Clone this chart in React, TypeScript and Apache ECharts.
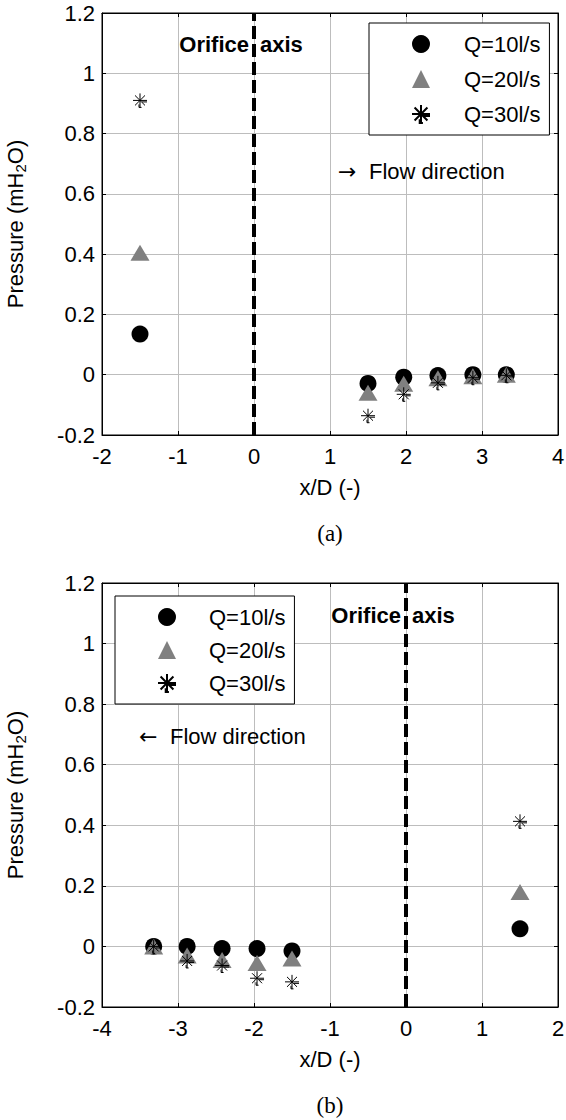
import React, { useEffect, useRef } from "react";
import * as echarts from "echarts";

const FONT = "Liberation Sans";
const FS = 22;
const SERIES_NAMES = ["Q=10l/s", "Q=20l/s", "Q=30l/s"];

// Panel (a)
const xPosA = [-1.5, 1.5, 1.97, 2.42, 2.88, 3.32];
const q10A = [0.135, -0.029, -0.008, -0.003, 0.0, 0.0];
const q20A = [0.405, -0.06, -0.03, -0.012, -0.005, 0.0];
const q30A = [0.91, -0.136, -0.065, -0.027, -0.01, -0.002];

// Panel (b)
const xPosB = [-3.32, -2.88, -2.42, -1.96, -1.5, 1.5];
const q10B = [0.0, 0.0, -0.007, -0.007, -0.015, 0.058];
const q20B = [0.0, -0.03, -0.045, -0.055, -0.04, 0.18];
const q30B = [0.0, -0.048, -0.063, -0.105, -0.117, 0.413];

const Y_MIN = -0.2;
const Y_MAX = 1.2;
const Y_STEP = 0.2;
const X_RANGE_A = [-2, 4];
const X_RANGE_B = [-4, 2];

const ASTERISK =
  "path://M1 8L15 8M8 1L8 15M3 3L13 13M13 3L3 13M10 9.5L15 9.5M7 12L7 15L9.5 15";

const GRID_LEFT = 102;
const GRID_WIDTH = 456;

type Panel = {
  xr: number[];
  xs: number[];
  q10: number[];
  q20: number[];
  q30: number[];
  gridTop: number;
  gridHeight: number;
  legendLeft: number;
  legendTop: number;
  legendPadLeft: number;
  legendTextPad: number;
  legendGap: number;
  orificeY: number;
  arrow: string;
  flowX: number;
  flowY: number;
  caption: string;
  captionY: number;
};

function axisCommon() {
  return {
    axisLine: { show: true, onZero: false, lineStyle: { color: "#000", width: 1 } },
    axisTick: { show: true, inside: true, length: 4, lineStyle: { color: "#000" } },
  };
}

function buildOption(p: Panel) {
  const x0px = GRID_LEFT + ((0 - p.xr[0]) / (p.xr[1] - p.xr[0])) * GRID_WIDTH;
  const pts = (ys: number[]) => p.xs.map((x, i) => [x, ys[i]]);
  const labelFmt = (v: number) => String(Math.round(v * 10) / 10);
  return {
    animation: false,
    backgroundColor: "#fff",
    grid: {
      left: GRID_LEFT,
      width: GRID_WIDTH,
      top: p.gridTop,
      height: p.gridHeight,
      containLabel: false,
      outerBoundsMode: "none",
      show: true,
      borderColor: "#000",
      borderWidth: 1,
      backgroundColor: "transparent",
    },
    xAxis: [
      {
        type: "value",
        min: p.xr[0],
        max: p.xr[1],
        interval: 1,
        position: "bottom",
        ...axisCommon(),
        axisLabel: { fontSize: FS, fontFamily: FONT, color: "#000", margin: 10 },
        splitLine: { show: true, lineStyle: { color: "#bdbdbd", width: 1 } },
        name: "x/D (-)",
        nameLocation: "middle",
        nameGap: 41,
        nameTextStyle: { fontSize: FS, fontFamily: FONT, color: "#000" },
      },
      {
        type: "value",
        min: p.xr[0],
        max: p.xr[1],
        interval: 1,
        position: "top",
        ...axisCommon(),
        axisLabel: { show: false },
        splitLine: { show: false },
      },
    ],
    yAxis: [
      {
        type: "value",
        min: Y_MIN,
        max: Y_MAX,
        interval: Y_STEP,
        position: "left",
        ...axisCommon(),
        axisLabel: { fontSize: FS, fontFamily: FONT, color: "#000", margin: 7, formatter: labelFmt },
        splitLine: { show: true, lineStyle: { color: "#bdbdbd", width: 1 } },
        name: "{a|Pressure (mH}{b|2}{a|O)}",
        nameLocation: "middle",
        nameGap: 74,
        nameTextStyle: {
          color: "#000",
          rich: {
            a: { fontSize: FS, fontFamily: FONT, color: "#000", lineHeight: 24, verticalAlign: "top" },
            b: { fontSize: 15, fontFamily: FONT, color: "#000", lineHeight: 15, verticalAlign: "bottom", padding: [12, 0, 0, 0] },
          },
        },
      },
      {
        type: "value",
        min: Y_MIN,
        max: Y_MAX,
        interval: Y_STEP,
        position: "right",
        ...axisCommon(),
        axisLabel: { show: false },
        splitLine: { show: false },
      },
    ],
    legend: {
      orient: "vertical",
      left: p.legendLeft,
      top: p.legendTop,
      data: SERIES_NAMES,
      itemWidth: 18,
      itemHeight: 18,
      itemGap: p.legendGap,
      padding: [9, 9, 9, p.legendPadLeft],
      borderColor: "#000",
      borderWidth: 1,
      borderRadius: 0,
      backgroundColor: "#fff",
      textStyle: {
        fontSize: FS,
        fontFamily: FONT,
        color: "#000",
        lineHeight: 24,
        padding: [0, 0, 0, p.legendTextPad],
      },
    },
    graphic: [
      {
        type: "text",
        x: x0px - 5,
        y: p.orificeY,
        z: 10,
        style: { text: "Orifice", fontSize: FS, fontWeight: "bold", fontFamily: FONT, fill: "#000", align: "right", verticalAlign: "middle" },
      },
      {
        type: "text",
        x: x0px + 6,
        y: p.orificeY,
        z: 10,
        style: { text: "axis", fontSize: FS, fontWeight: "bold", fontFamily: FONT, fill: "#000", align: "left", verticalAlign: "middle" },
      },
      {
        type: "text",
        x: p.flowX,
        y: p.flowY,
        z: 10,
        style: { text: p.arrow, fontSize: FS, fontFamily: "DejaVu Sans", fill: "#000", align: "left", verticalAlign: "middle" },
      },
      {
        type: "text",
        x: p.flowX + 31,
        y: p.flowY,
        z: 10,
        style: { text: "Flow direction", fontSize: FS, fontFamily: FONT, fill: "#000", align: "left", verticalAlign: "middle" },
      },
      {
        type: "text",
        x: GRID_LEFT + GRID_WIDTH / 2,
        y: p.captionY,
        z: 10,
        style: { text: p.caption, fontSize: 23, fontFamily: "Liberation Serif", fill: "#000", align: "center", verticalAlign: "middle" },
      },
    ],
    series: [
      {
        name: SERIES_NAMES[0],
        type: "scatter",
        xAxisIndex: 0,
        yAxisIndex: 0,
        symbol: "circle",
        symbolSize: 17,
        itemStyle: { color: "#000", opacity: 1 },
        data: pts(p.q10),
        z: 2,
        markLine: {
          silent: true,
          symbol: ["none", "none"],
          label: { show: false },
          lineStyle: { color: "#000", width: 4, type: [13, 5], opacity: 1 },
          data: [{ xAxis: 0 }],
        },
      },
      {
        name: SERIES_NAMES[1],
        type: "scatter",
        xAxisIndex: 0,
        yAxisIndex: 0,
        symbol: "triangle",
        symbolSize: [19, 16],
        itemStyle: { color: "#808080", opacity: 1 },
        data: pts(p.q20),
        z: 3,
      },
      {
        name: SERIES_NAMES[2],
        type: "scatter",
        xAxisIndex: 0,
        yAxisIndex: 0,
        symbol: ASTERISK,
        symbolSize: 14,
        itemStyle: { color: "rgba(0,0,0,0)", borderColor: "#000", borderWidth: 1, opacity: 1 },
        data: pts(p.q30),
        z: 4,
      },
    ],
  };
}

const PANEL_A: Panel = {
  xr: X_RANGE_A,
  xs: xPosA,
  q10: q10A,
  q20: q20A,
  q30: q30A,
  gridTop: 13,
  gridHeight: 422,
  legendLeft: 369,
  legendTop: 23,
  legendPadLeft: 42,
  legendTextPad: 29,
  legendGap: 11,
  orificeY: 44,
  arrow: "\u2192",
  flowX: 338,
  flowY: 171,
  caption: "(a)",
  captionY: 533,
};

const PANEL_B: Panel = {
  xr: X_RANGE_B,
  xs: xPosB,
  q10: q10B,
  q20: q20B,
  q30: q30B,
  gridTop: 23,
  gridHeight: 424,
  legendLeft: 115,
  legendTop: 36,
  legendPadLeft: 42,
  legendTextPad: 28,
  legendGap: 9,
  orificeY: 55,
  arrow: "\u2190",
  flowX: 139,
  flowY: 176,
  caption: "(b)",
  captionY: 545,
};

function ChartPanel({ panel }: { panel: Panel }) {
  const ref = useRef<HTMLDivElement>(null);
  useEffect(() => {
    if (!ref.current) return;
    const chart = echarts.init(ref.current, undefined, { renderer: "svg" });
    chart.setOption(buildOption(panel) as any);
    return () => chart.dispose();
  }, [panel]);
  return <div ref={ref} style={{ width: 566, height: 560 }} />;
}

export default function App() {
  useEffect(() => {
    document.body.style.margin = "0";
  }, []);
  return (
    <div style={{ width: 566, height: 1120, background: "#fff" }}>
      <ChartPanel panel={PANEL_A} />
      <ChartPanel panel={PANEL_B} />
    </div>
  );
}
